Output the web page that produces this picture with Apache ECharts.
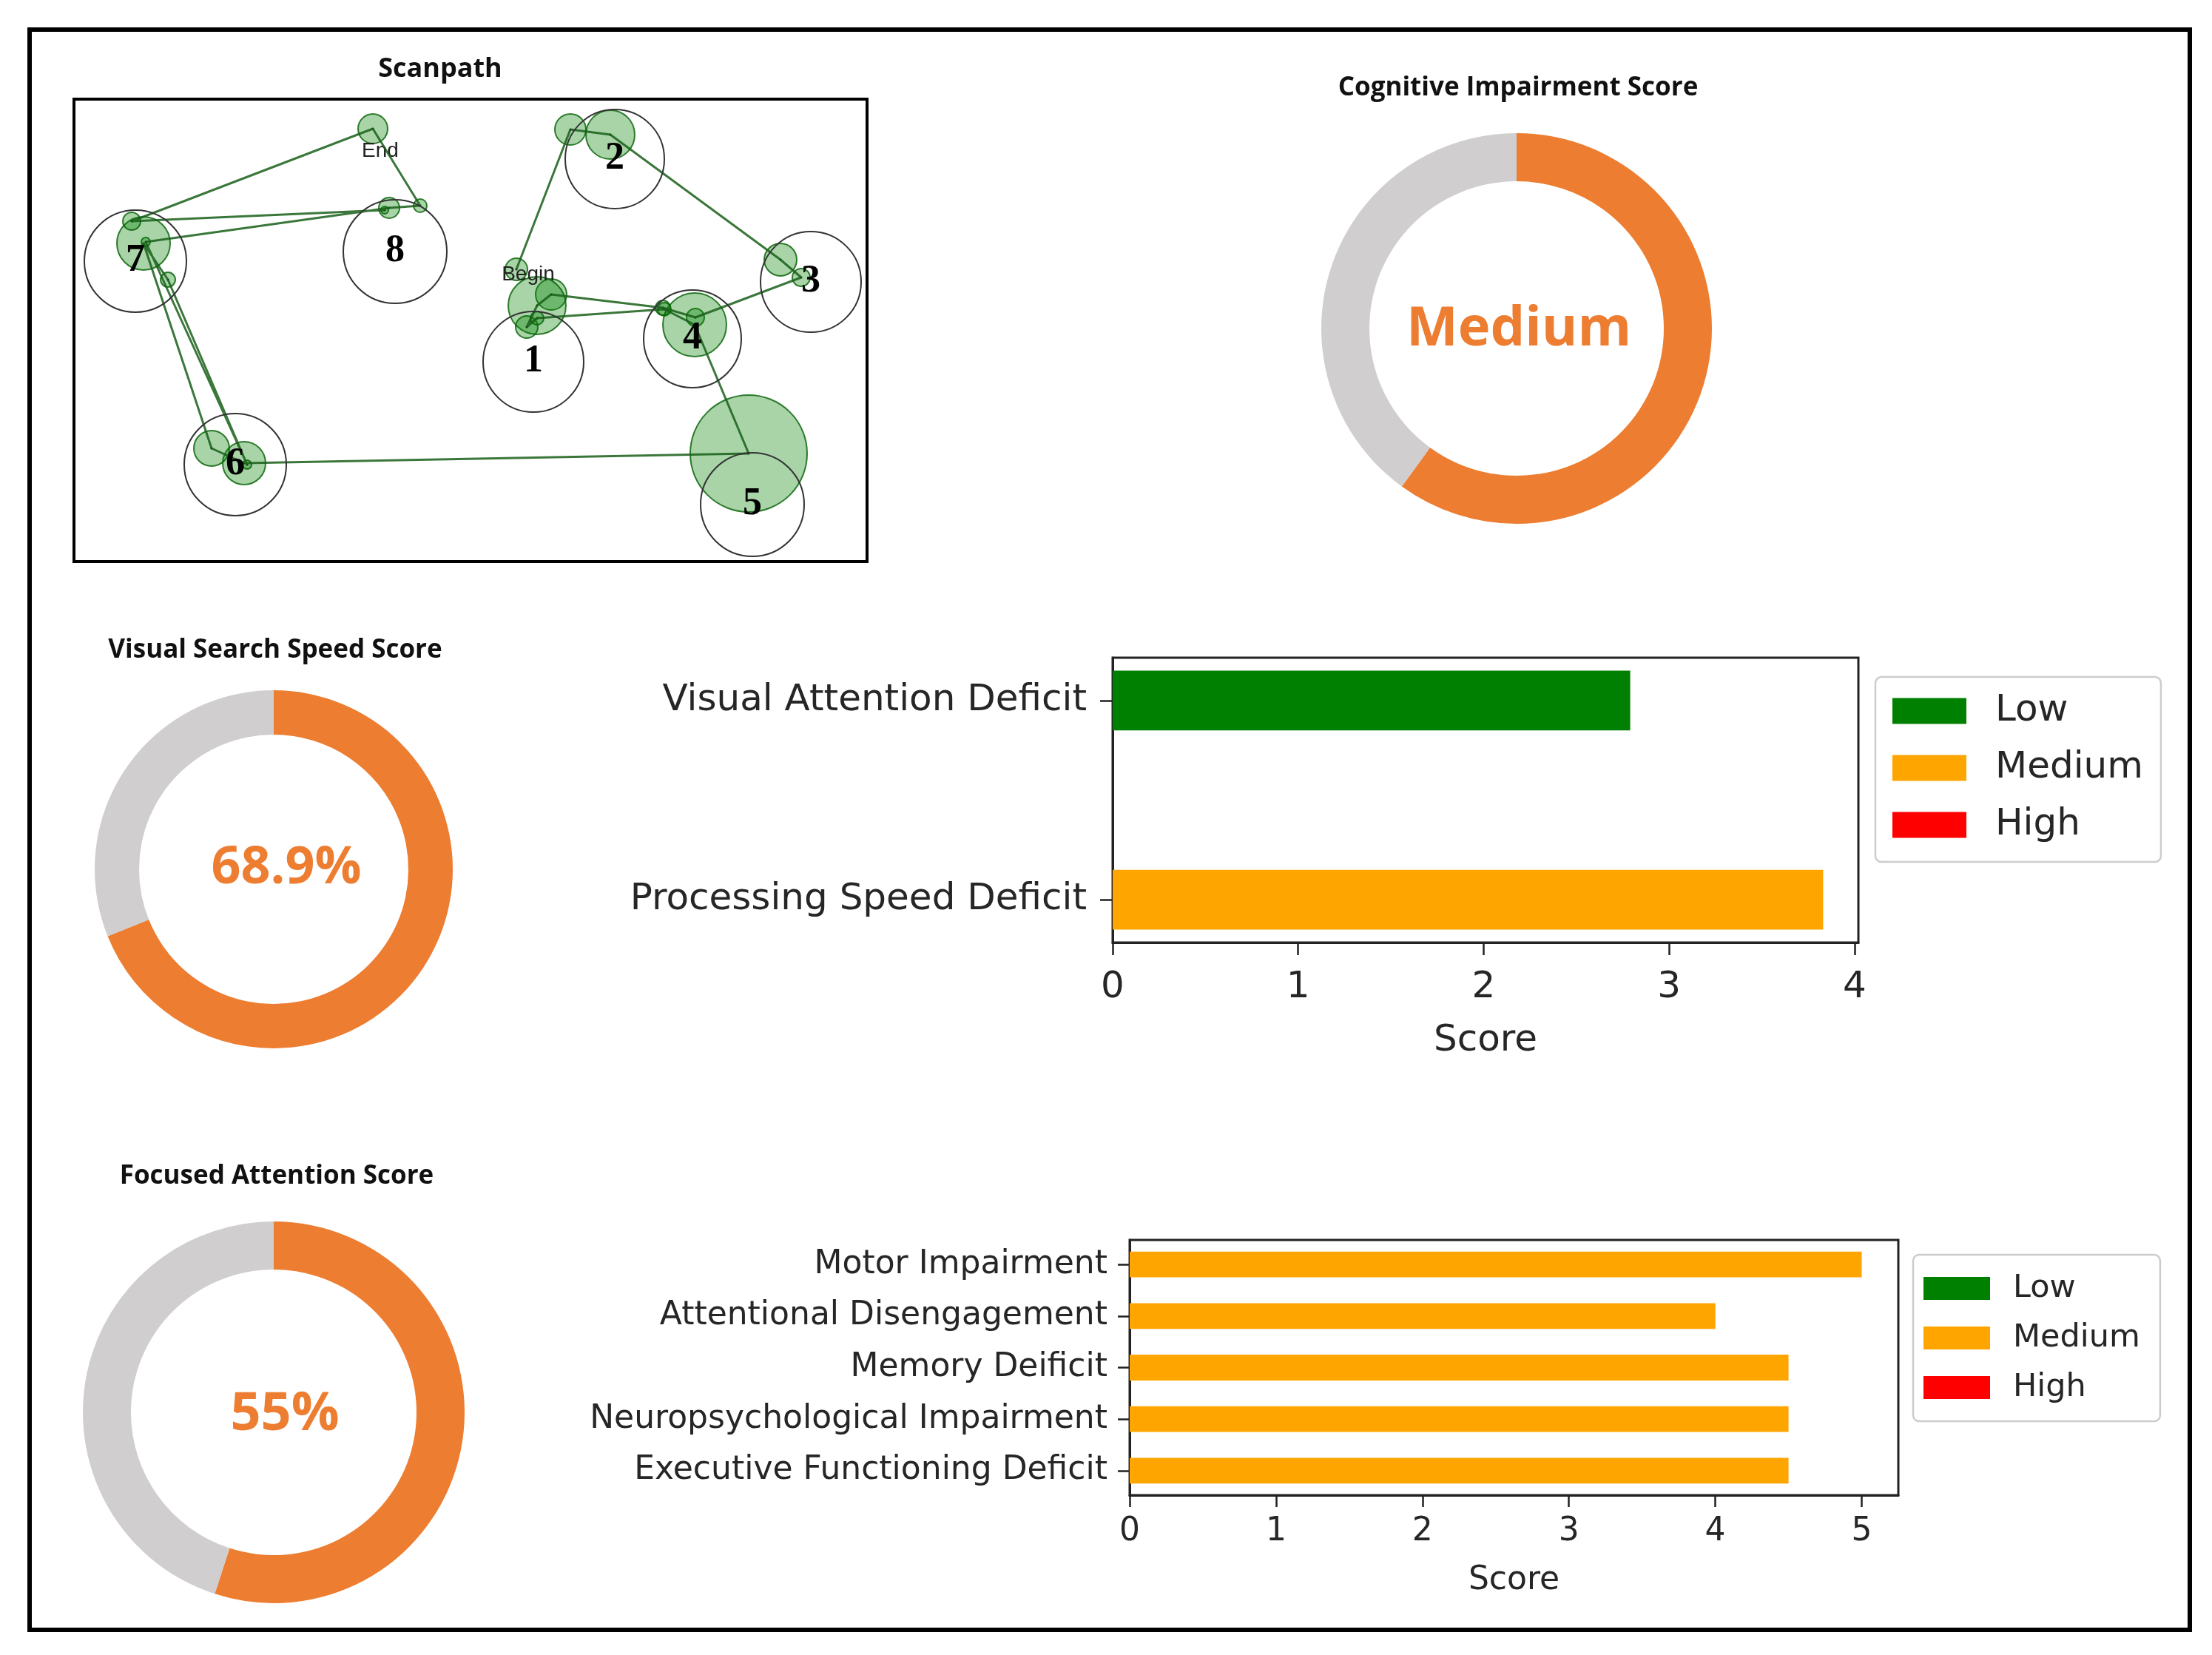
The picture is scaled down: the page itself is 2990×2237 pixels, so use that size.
<!DOCTYPE html>
<html><head><meta charset="utf-8">
<script src="https://cdn.jsdelivr.net/npm/echarts@6/dist/echarts.min.js"></script>
<style>html,body{margin:0;padding:0;background:#fff}#c{width:2990px;height:2237px}</style>
</head><body><div id="c"></div>
<script>
// ================= DATA =================
const donutTitles = ['Cognitive Impairment Score', 'Visual Search Speed Score', 'Focused Attention Score'];
const donutValues = [60, 68.9, 55];
const donutCenterText = ['Medium', '68.9%', '55%'];

const midCategories = ['Visual Attention Deficit', 'Processing Speed Deficit'];
const midScores = [2.79, 3.83];
const midLevels = ['Low', 'Medium'];
const midTicks = [0, 1, 2, 3, 4];

const botCategories = ['Motor Impairment', 'Attentional Disengagement', 'Memory Deificit', 'Neuropsychological Impairment', 'Executive Functioning Deficit'];
const botScores = [5.0, 4.0, 4.5, 4.5, 4.5];
const botLevels = ['Medium', 'Medium', 'Medium', 'Medium', 'Medium'];
const botTicks = [0, 1, 2, 3, 4, 5];

const levelNames = ['Low', 'Medium', 'High'];
const levelColors = ['#008000', '#FFA500', '#FF0000'];

// Scanpath: areas of interest (image coordinates inside the scanpath frame)
const aoiLabels = ['1', '2', '3', '4', '5', '6', '7', '8'];
const aoiX = [621, 731, 996, 836, 917, 218, 83, 434];
const aoiY = [355, 81, 247, 324, 548, 494, 219, 206];
const aoiR = [68, 67, 68, 66, 70, 69, 69, 70];

// Scanpath: fixations in viewing order
const fixX = [598, 671, 725, 955, 983, 840, 796, 645, 626, 612, 626, 798, 839, 912, 230, 186, 94, 127, 234, 97, 426, 468, 404, 78, 420];
const fixY = [230, 41, 48, 217, 241, 295, 282, 264, 279, 308, 296, 284, 305, 479, 492, 472, 195, 244, 494, 193, 147, 144, 40, 165, 150];
const fixR = [15, 21, 33, 22, 12, 12, 10, 21, 39, 15, 9, 9, 43, 79, 29, 24, 36, 10, 6, 6, 14, 9, 20, 12, 5];
const fixText = {0: 'Begin', 22: 'End'};

// ================= LAYOUT / STYLE =================
const ORANGE = '#ED7D31', GREY = '#D0CECE';
const TITLE_FONT = '"Open Sans", "Noto Sans", sans-serif';
const MPL_FONT = '"DejaVu Sans", sans-serif';
const TXT = '#262626';
const donutLayout = [
  {c: [2050, 444], r: [199, 264], title: [2052, 119], text: [2053, 446], fs: 74},
  {c: [370, 1175], r: [182, 242], title: [372, 879], text: [387, 1174], fs: 70},
  {c: [370, 1909], r: [193, 258], title: [374, 1590], text: [385, 1912], fs: 72}
];
const labelOffsets = {Begin: [16, 7], End: [10, 30]};

function barRender(half) {
  return function (params, api) {
    const v = api.value(0), idx = api.value(1);
    const p0 = api.coord([0, idx - half]);
    const p1 = api.coord([v, idx + half]);
    return {
      type: 'rect',
      shape: {x: Math.min(p0[0], p1[0]), y: Math.min(p0[1], p1[1]), width: Math.abs(p1[0] - p0[0]), height: Math.abs(p1[1] - p0[1])},
      style: {fill: api.visual('color')}
    };
  };
}

function levelSeries(scores, levels, gridIdx, half) {
  return levelNames.map((L, k) => ({
    name: L, type: 'custom', xAxisIndex: gridIdx, yAxisIndex: gridIdx,
    itemStyle: {color: levelColors[k]},
    encode: {x: 0, y: 1},
    renderItem: barRender(half),
    silent: true,
    data: scores.map((s, i) => [s, i]).filter((d, i) => levels[i] === L)
  }));
}

function axisCommon() {
  return {
    axisLine: {show: true, onZero: false, lineStyle: {color: '#222', width: 3}},
    splitLine: {show: false}
  };
}

const pies = donutValues.map((v, i) => ({
  type: 'pie', center: donutLayout[i].c, radius: donutLayout[i].r,
  startAngle: 90, clockwise: true, silent: true,
  label: {show: false}, labelLine: {show: false}, emphasis: {disabled: true},
  data: [
    {value: v, name: 'score' + i, itemStyle: {color: ORANGE}},
    {value: 100 - v, name: 'rest' + i, itemStyle: {color: GREY}}
  ]
}));

const graphics = [
  {type: 'rect', shape: {x: 40, y: 40, width: 2920, height: 2163}, style: {fill: 'none', stroke: '#000', lineWidth: 6}, silent: true},
  {type: 'text', x: 595, y: 94, style: {text: 'Scanpath', font: 'bold 36px ' + TITLE_FONT, fill: '#111', textAlign: 'center', textVerticalAlign: 'middle'}}
];
donutTitles.forEach((t, i) => {
  const L = donutLayout[i];
  graphics.push({type: 'text', x: L.title[0], y: L.title[1], style: {text: t, font: 'bold 35px ' + TITLE_FONT, fill: '#111', textAlign: 'center', textVerticalAlign: 'middle'}});
  graphics.push({type: 'text', x: L.text[0], y: L.text[1], style: {text: donutCenterText[i], font: 'bold ' + L.fs + 'px ' + TITLE_FONT, fill: ORANGE, textAlign: 'center', textVerticalAlign: 'middle'}});
});

const option = {
  animation: false,
  backgroundColor: '#fff',
  graphic: graphics,
  grid: [
    {left: 100, top: 134, width: 1072, height: 625, show: true, borderColor: '#000', borderWidth: 4, backgroundColor: 'transparent'},
    {left: 1504, top: 889, width: 1008, height: 385, show: true, borderColor: '#222', borderWidth: 3, backgroundColor: 'transparent'},
    {left: 1527, top: 1676, width: 1039, height: 345, show: true, borderColor: '#222', borderWidth: 3, backgroundColor: 'transparent'}
  ],
  xAxis: [
    {gridIndex: 0, type: 'value', min: 0, max: 1072, show: false},
    Object.assign(axisCommon(), {
      gridIndex: 1, type: 'value', min: 0, max: 4.02, interval: 1,
      axisTick: {show: true, length: 17, customValues: midTicks, lineStyle: {color: '#222', width: 2.5}},
      axisLabel: {customValues: midTicks, formatter: v => (Number.isInteger(v) ? String(v) : ''), fontFamily: MPL_FONT, fontSize: 50, color: TXT, margin: 36},
      name: 'Score', nameLocation: 'middle', nameGap: 108,
      nameTextStyle: {fontFamily: MPL_FONT, fontSize: 50, color: TXT}
    }),
    Object.assign(axisCommon(), {
      gridIndex: 2, type: 'value', min: 0, max: 5.25, interval: 1,
      axisTick: {show: true, length: 16, customValues: botTicks, lineStyle: {color: '#222', width: 2.5}},
      axisLabel: {customValues: botTicks, formatter: v => (Number.isInteger(v) ? String(v) : ''), fontFamily: MPL_FONT, fontSize: 44, color: TXT, margin: 28},
      name: 'Score', nameLocation: 'middle', nameGap: 94,
      nameTextStyle: {fontFamily: MPL_FONT, fontSize: 44, color: TXT}
    })
  ],
  yAxis: [
    {gridIndex: 0, type: 'value', min: 0, max: 625, inverse: true, show: false},
    Object.assign(axisCommon(), {
      gridIndex: 1, type: 'value', min: -0.215, max: 1.215, inverse: true,
      axisTick: {show: true, length: 17, customValues: [0, 1], lineStyle: {color: '#222', width: 2.5}},
      axisLabel: {customValues: [0, 1], formatter: v => (midCategories[v] !== undefined ? midCategories[v] : ''), fontFamily: MPL_FONT, fontSize: 50, color: TXT, margin: 35, padding: [8, 0, 0, 0]}
    }),
    Object.assign(axisCommon(), {
      gridIndex: 2, type: 'value', min: -0.475, max: 4.475, inverse: true,
      axisTick: {show: true, length: 16, customValues: [0, 1, 2, 3, 4], lineStyle: {color: '#222', width: 2.5}},
      axisLabel: {customValues: [0, 1, 2, 3, 4], formatter: v => (botCategories[v] !== undefined ? botCategories[v] : ''), fontFamily: MPL_FONT, fontSize: 44, color: TXT, margin: 30, padding: [4, 0, 0, 0]}
    })
  ],
  legend: [
    {data: levelNames, orient: 'vertical', left: 2535, top: 915, icon: 'rect', itemWidth: 100, itemHeight: 35, itemGap: 27,
     padding: [21, 24, 25, 23], borderColor: '#cccccc', borderWidth: 2.5, borderRadius: 8, backgroundColor: '#fff', selectedMode: false,
     textStyle: {fontFamily: MPL_FONT, fontSize: 50, lineHeight: 50, color: TXT, padding: [0, 0, 0, 34]}},
    {data: levelNames, orient: 'vertical', left: 2586, top: 1696, icon: 'rect', itemWidth: 90, itemHeight: 31, itemGap: 24,
     padding: [24, 27, 24, 14], borderColor: '#cccccc', borderWidth: 2.5, borderRadius: 8, backgroundColor: '#fff', selectedMode: false,
     textStyle: {fontFamily: MPL_FONT, fontSize: 43, lineHeight: 43, color: TXT, padding: [0, 0, 0, 26]}}
  ],
  series: [
    // fixations
    {
      type: 'custom', xAxisIndex: 0, yAxisIndex: 0, silent: true, z: 2,
      data: fixX.map((x, i) => [x, fixY[i], fixR[i]]),
      renderItem: function (params, api) {
        const c = api.coord([api.value(0), api.value(1)]);
        const r = api.size([api.value(2), 0])[0];
        const ch = [
          {type: 'circle', shape: {cx: c[0], cy: c[1], r: r}, style: {fill: 'rgba(0,128,0,0.34)', stroke: 'rgba(0,95,0,0.8)', lineWidth: 2}},
          {type: 'circle', shape: {cx: c[0], cy: c[1], r: 1.6}, style: {fill: '#1d3d1d'}}
        ];
        const t = fixText[params.dataIndex];
        if (t) {
          const o = labelOffsets[t];
          ch.push({type: 'text', x: c[0] + o[0], y: c[1] + o[1], z2: 10, style: {text: t, font: '28px "Liberation Sans", sans-serif', fill: '#222', textAlign: 'center', textVerticalAlign: 'middle'}});
        }
        return {type: 'group', children: ch};
      }
    },
    // path
    {
      type: 'line', xAxisIndex: 0, yAxisIndex: 0, silent: true, z: 3, symbol: 'none',
      lineStyle: {color: 'rgba(25,95,25,0.85)', width: 3},
      data: fixX.map((x, i) => [x, fixY[i]])
    },
    // AOIs
    {
      type: 'custom', xAxisIndex: 0, yAxisIndex: 0, silent: true, z: 4,
      data: aoiX.map((x, i) => [x, aoiY[i], aoiR[i]]),
      renderItem: function (params, api) {
        const c = api.coord([api.value(0), api.value(1)]);
        const r = api.size([api.value(2), 0])[0];
        return {type: 'group', children: [
          {type: 'circle', shape: {cx: c[0], cy: c[1], r: r}, style: {fill: 'none', stroke: '#333', lineWidth: 2}},
          {type: 'text', x: c[0], y: c[1], style: {text: aoiLabels[params.dataIndex], font: 'bold 52px "Liberation Serif", "DejaVu Serif", serif', fill: '#000', textAlign: 'center', textVerticalAlign: 'middle'}}
        ]};
      }
    }
  ].concat(levelSeries(midScores, midLevels, 1, 0.15))
   .concat(levelSeries(botScores, botLevels, 2, 0.25))
   .concat(pies)
};

const chart = echarts.init(document.getElementById('c'));
chart.setOption(option);
</script>
</body></html>
